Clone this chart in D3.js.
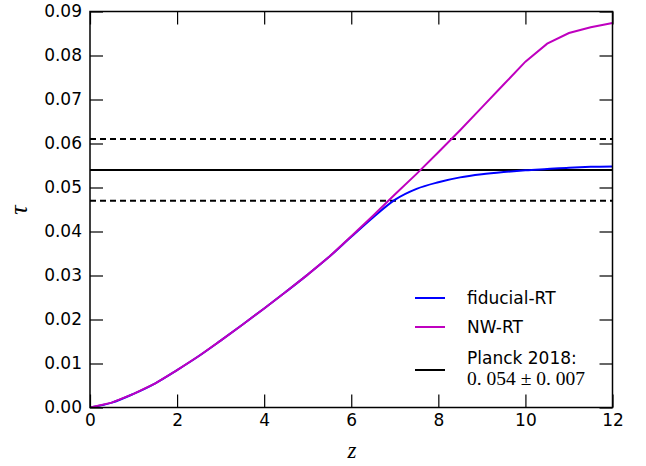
<!DOCTYPE html>
<html><head><meta charset="utf-8">
<script src="https://cdn.jsdelivr.net/npm/d3@7"></script>
<style>body{margin:0;background:#fff}</style>
</head><body>
<svg id="c" width="646" height="466"></svg>
<script>
const zGrid = [0,0.5,1,1.5,2,2.5,3,3.5,4,4.5,5,5.5,6,6.5,7,7.5,8,8.5,9,9.5,10,10.5,11,11.5,12];
const fiducialRT = [0,0.0011,0.0031,0.0055,0.0085,0.0117,0.0152,0.0188,0.0225,0.0263,0.0302,0.0343,0.0388,0.0432,0.0472,0.0497,0.0512,0.0523,0.0530,0.0535,0.0539,0.0542,0.0545,0.0547,0.0548];
const nwRT = [0,0.0011,0.0031,0.0055,0.0085,0.0117,0.0152,0.0188,0.0225,0.0263,0.0302,0.0343,0.0389,0.0436,0.0484,0.0531,0.0580,0.0630,0.0682,0.0734,0.0786,0.0827,0.0851,0.0864,0.0874];
const planckTau = 0.054, planckErr = 0.007;
const xTicks = [0,2,4,6,8,10,12];
const yTicks = [0,0.01,0.02,0.03,0.04,0.05,0.06,0.07,0.08,0.09];

const L=90, R=612.5, T=11.5, B=407.5;
const svg = d3.select("#c");
const x = d3.scaleLinear().domain([0,12]).range([L,R]);
const y = d3.scaleLinear().domain([0,0.09]).range([B,T]);
const font = "'DejaVu Sans', sans-serif";
svg.append("clipPath").attr("id","pc").append("rect").attr("x",L).attr("y",T).attr("width",R-L).attr("height",B-T);
const g = svg.append("g").attr("clip-path","url(#pc)");

[[planckTau,null],[planckTau+planckErr,"6,4"],[planckTau-planckErr,"6,4"]].forEach(([v,d])=>{
  g.append("line").attr("x1",L).attr("x2",R).attr("y1",y(v)).attr("y2",y(v))
   .attr("stroke","#000").attr("stroke-width",2).attr("stroke-dasharray",d);
});
const line = d3.line().x((d,i)=>x(zGrid[i])).y(d=>y(d)).curve(d3.curveMonotoneX);
g.append("path").datum(fiducialRT).attr("d",line).attr("fill","none").attr("stroke","#0000ff").attr("stroke-width",2);
g.append("path").datum(nwRT).attr("d",d3.line().x((d,i)=>x(zGrid[i])).y(d=>y(d))).attr("fill","none").attr("stroke","#bf00bf").attr("stroke-width",2);

const tl = 13;
const ax = d3.axisBottom(x).tickValues(xTicks).tickFormat(d3.format("d")).tickSizeInner(-tl).tickSizeOuter(0).tickPadding(6);
const axT = d3.axisTop(x).tickValues(xTicks).tickFormat("").tickSizeInner(-tl).tickSizeOuter(0);
const ay = d3.axisLeft(y).tickValues(yTicks).tickFormat(d3.format(".2f")).tickSizeInner(-tl).tickSizeOuter(0).tickPadding(8);
const ayR = d3.axisRight(y).tickValues(yTicks).tickFormat("").tickSizeInner(-tl).tickSizeOuter(0);
function style(sel){
  sel.selectAll("path").remove();
  sel.selectAll("line").attr("stroke","#000").attr("stroke-width",1.2);
  sel.selectAll("text").attr("font-family",font).attr("font-size",17).attr("fill","#000");
}
svg.append("g").attr("transform",`translate(0,${B})`).call(ax).call(style);
svg.append("g").attr("transform",`translate(0,${T})`).call(axT).call(style);
svg.append("g").attr("transform",`translate(${L},0)`).call(ay).call(style);
svg.append("g").attr("transform",`translate(${R},0)`).call(ayR).call(style);
svg.append("rect").attr("x",L).attr("y",T).attr("width",R-L).attr("height",B-T).attr("fill","none").attr("stroke","#000").attr("stroke-width",1.5);

svg.append("text").attr("x",352).attr("y",458).attr("text-anchor","middle")
  .attr("font-family","'Liberation Serif', serif").attr("font-style","italic").attr("font-size",23).text("z");
svg.append("text").attr("transform","translate(27,210) rotate(-90)").attr("text-anchor","middle")
  .attr("font-family","'Liberation Serif', serif").attr("font-style","italic").attr("font-size",26).text("τ");

const legColors = ["#0000ff","#bf00bf","#000"];
const legY = [298,327,370];
legY.forEach((ly,i)=>{
  svg.append("line").attr("x1",415).attr("x2",445).attr("y1",ly).attr("y2",ly).attr("stroke",legColors[i]).attr("stroke-width",2);
});
svg.append("text").attr("x",467).attr("y",304).attr("font-family",font).attr("font-size",17).text("fiducial-RT");
svg.append("text").attr("x",467).attr("y",333).attr("font-family",font).attr("font-size",17).text("NW-RT");
svg.append("text").attr("x",467).attr("y",364).attr("font-family",font).attr("font-size",17).text("Planck 2018:");
svg.append("text").attr("x",467).attr("y",385).attr("font-family","'Liberation Serif', serif").attr("font-size",19.5)
  .text(`${d3.format(".3f")(planckTau).replace(".",". ")} ± ${d3.format(".3f")(planckErr).replace(".",". ")}`);
</script>
</body></html>
